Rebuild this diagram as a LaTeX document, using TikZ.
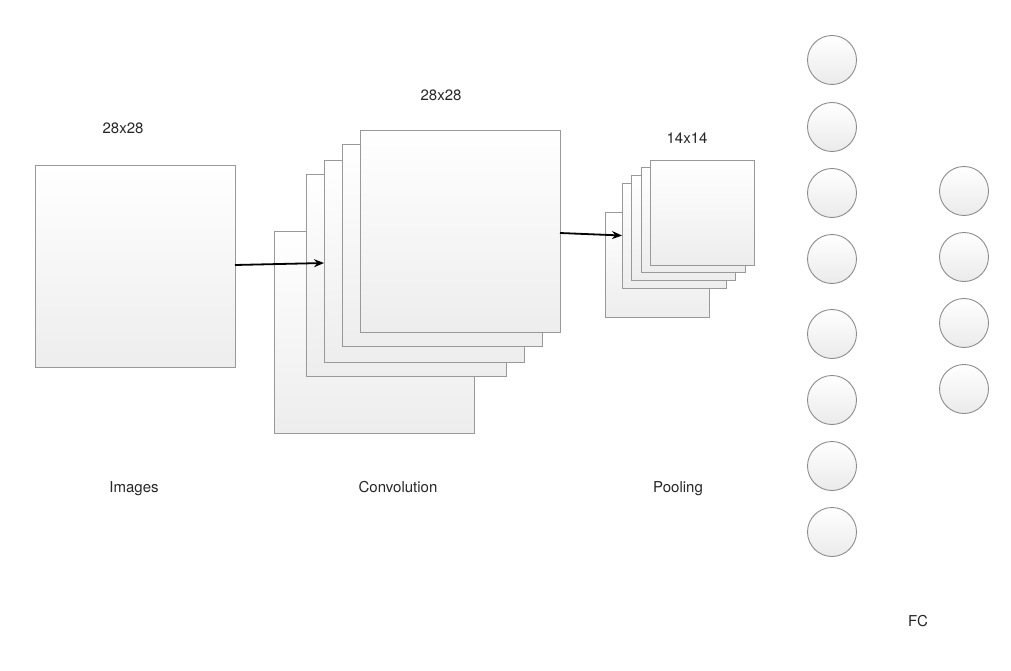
\documentclass[tikz,border=0pt]{standalone}
\usepackage{fontspec}
\setmainfont{TeX Gyre Heros}
\usetikzlibrary{arrows.meta}
\begin{document}
\begin{tikzpicture}[x=1pt,y=-1pt,
  layer/.style={draw=black!40, line width=0.9pt, top color=white, bottom color=black!7,
    inner sep=0pt, outer sep=0pt, anchor=north west, minimum width=#1, minimum height=#1*1.01},
  neuron/.style={circle, draw=black!45, line width=0.9pt, top color=white, bottom color=black!8,
    minimum size=49pt, inner sep=0pt},
  lbl/.style={font=\fontsize{15}{18}\selectfont, text=black!85, text height=11pt, text depth=3pt},
  conn/.style={-{Stealth[length=10pt,width=8pt]}, line width=1.8pt}]
\useasboundingbox (0,0) rectangle (1011,671);
% input image
\node[layer=200pt] (img) at (35,165) {};
% convolution stack
\node[layer=200pt] (c1) at (274,231) {};
\node[layer=200pt] (c2) at (306,174) {};
\node[layer=200pt] (c3) at (324,160) {};
\node[layer=200pt] (c4) at (342,144) {};
\node[layer=200pt] (c5) at (360,130) {};
% pooling stack
\node[layer=104pt] (p1) at (605,212) {};
\node[layer=104pt] (p2) at (622,183) {};
\node[layer=104pt] (p3) at (631,175) {};
\node[layer=104pt] (p4) at (641,167) {};
\node[layer=104pt] (p5) at (650,160) {};
% arrows
\draw[conn] ([yshift=1pt]img.east) -- ([yshift=-2pt]c3.west);
\draw[conn] ([yshift=-2pt]c5.east) -- (p2.west);
% fully connected neurons
\foreach \y [count=\i] in {60,127,193,259,334,400,466,532}
  \node[neuron] (n\i) at (832,\y) {};
\foreach \y [count=\i] in {191,257,323,389}
  \node[neuron] (m\i) at (964,\y) {};
% labels
\node[lbl] (t1) at (123,130) {28x28};
\node[lbl] (t2) at (441,97) {28x28};
\node[lbl] (t3) at (687,140) {14x14};
\node[lbl] (l1) at (134,488) {Images};
\node[lbl] (l2) at (398,488) {Convolution};
\node[lbl] (l3) at (678,488) {Pooling};
\node[lbl] (l4) at (918,622) {FC};
\end{tikzpicture}
\end{document}
